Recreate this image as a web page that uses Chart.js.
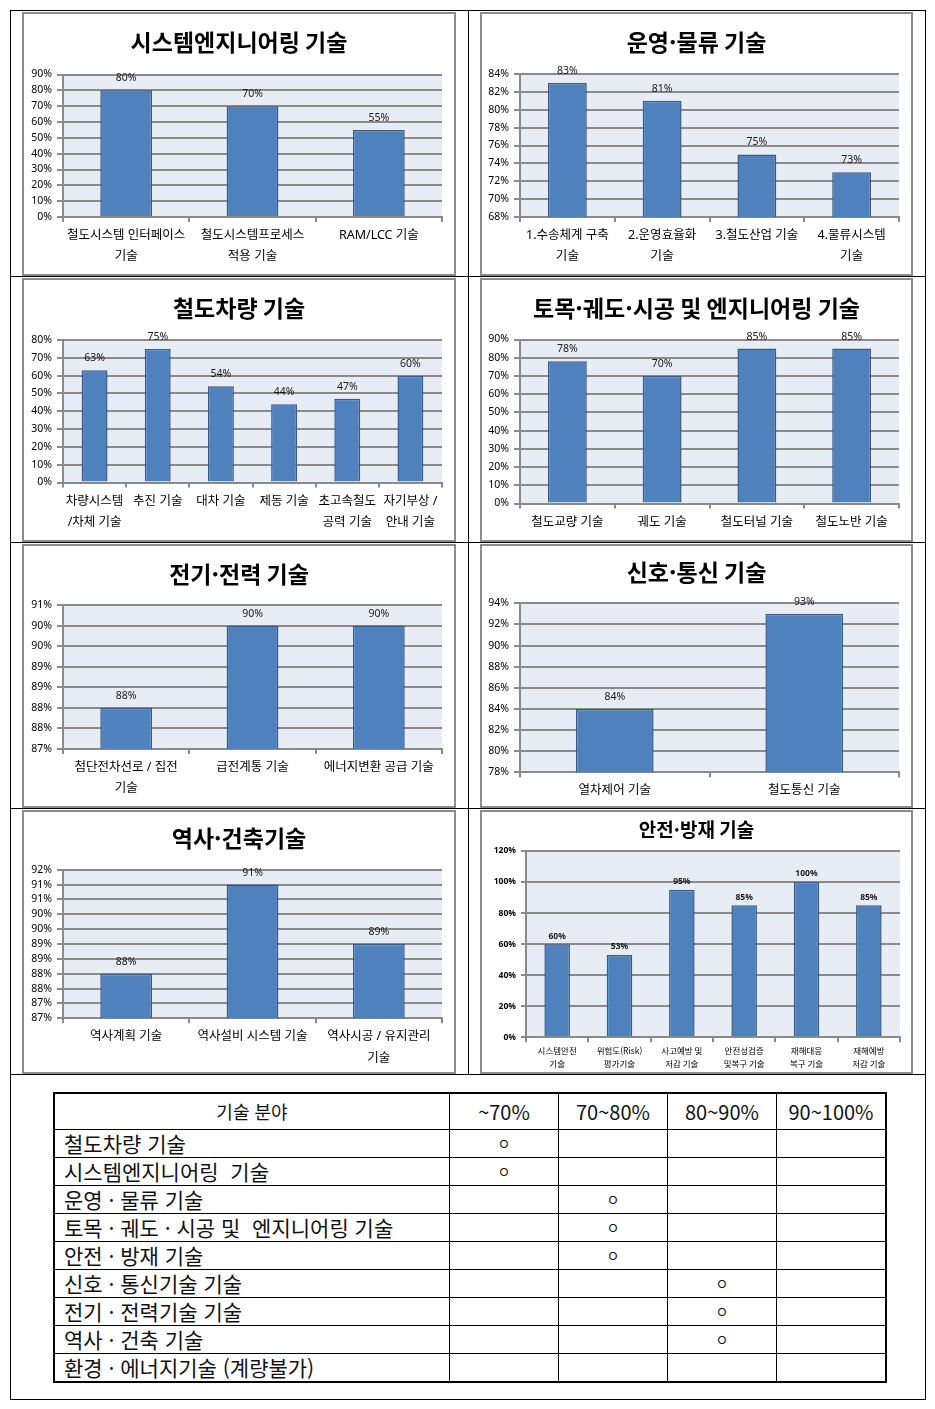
<!DOCTYPE html>
<html lang="ko">
<head>
<meta charset="utf-8">
<script src="https://cdn.jsdelivr.net/npm/chart.js@4.4.1/dist/chart.umd.min.js"></script>
<style>
  body { margin: 0; background: #fff; width: 935px; height: 1409px; position: relative; font-family: "Noto Sans CJK KR", sans-serif; }
  .line { position: absolute; background: #000; }
  .box { position: absolute; box-sizing: border-box; border: 2px solid #8c8c8c; }
  canvas { position: absolute; }
  #grid-table { position: absolute; left: 53px; top: 1092px; border-collapse: collapse; border: 2px solid #000; }
  #grid-table td { border: 1px solid #000; padding: 0; height: 27px; font-size: 21px; line-height: 27px; white-space: pre; color: #111; }
  #grid-table tr.head td { height: 35px; text-align: center; font-size: 20px; }
  #grid-table tr.head td:first-child { font-size: 18px; }
  #grid-table td.name { padding-left: 9px; }
  #grid-table td.mark { text-align: center; font-size: 14px; }
</style>
</head>
<body>
<div class="line" style="left:10px;top:10px;width:916px;height:1px"></div>
<div class="line" style="left:10px;top:1399px;width:916px;height:1px"></div>
<div class="line" style="left:10px;top:10px;width:1px;height:1390px"></div>
<div class="line" style="left:925px;top:10px;width:1px;height:1390px"></div>
<div class="line" style="left:468px;top:10px;width:1px;height:1064px"></div>
<div class="line" style="left:10px;top:276px;width:916px;height:1px"></div>
<div class="line" style="left:10px;top:542px;width:916px;height:1px"></div>
<div class="line" style="left:10px;top:808px;width:916px;height:1px"></div>
<div class="line" style="left:10px;top:1074px;width:916px;height:1px"></div>

<div class="box" style="left:22px;top:12px;width:434px;height:264px"></div>
<div class="box" style="left:480px;top:12px;width:433px;height:264px"></div>
<div class="box" style="left:22px;top:278px;width:434px;height:264px"></div>
<div class="box" style="left:480px;top:278px;width:433px;height:264px"></div>
<div class="box" style="left:22px;top:544px;width:434px;height:264px"></div>
<div class="box" style="left:480px;top:544px;width:433px;height:264px"></div>
<div class="box" style="left:22px;top:810px;width:434px;height:264px"></div>
<div class="box" style="left:480px;top:810px;width:433px;height:264px"></div>

<canvas id="c-sys" width="430" height="260" style="left:24px;top:14px"></canvas>
<canvas id="c-ops" width="429" height="260" style="left:482px;top:14px"></canvas>
<canvas id="c-car" width="430" height="260" style="left:24px;top:280px"></canvas>
<canvas id="c-civ" width="429" height="260" style="left:482px;top:280px"></canvas>
<canvas id="c-elec" width="430" height="260" style="left:24px;top:546px"></canvas>
<canvas id="c-sig" width="429" height="260" style="left:482px;top:546px"></canvas>
<canvas id="c-stn" width="430" height="260" style="left:24px;top:812px"></canvas>
<canvas id="c-safe" width="429" height="260" style="left:482px;top:812px"></canvas>

<table id="grid-table"></table>

<script>
// ── Data ──────────────────────────────────────────────────────────────────────
const sysLabels = [["철도시스템 인터페이스", "기술"], ["철도시스템프로세스", "적용 기술"], "RAM/LCC 기술"];
const sysValues = [80, 70, 55];
const sysAxis = [0, 90, 10];

const opsLabels = [["1.수송체계 구축", "기술"], ["2.운영효율화", "기술"], "3.철도산업 기술", ["4.물류시스템", "기술"]];
const opsValues = [83, 81, 75, 73];
const opsAxis = [68, 84, 2];

const carLabels = [["차량시스템", "/차체 기술"], "추진 기술", "대차 기술", "제동 기술", ["초고속철도", "공력 기술"], ["자기부상 /", "안내 기술"]];
const carValues = [63, 75, 54, 44, 47, 60];
const carAxis = [0, 80, 10];

const civLabels = ["철도교량 기술", "궤도 기술", "철도터널 기술", "철도노반 기술"];
const civValues = [78, 70, 85, 85];
const civAxis = [0, 90, 10];

const elecLabels = [["첨단전차선로 / 집전", "기술"], "급전계통 기술", "에너지변환 공급 기술"];
const elecValues = [88, 90, 90];
const elecAxis = [87, 90.5, 0.5];

const sigLabels = ["열차제어 기술", "철도통신 기술"];
const sigValues = [84, 93];
const sigAxis = [78, 94, 2];

const stnLabels = ["역사계획 기술", "역사설비 시스템 기술", ["역사시공 / 유지관리", "기술"]];
const stnValues = [88, 91, 89];
const stnAxis = [86.5, 91.5, 0.5];

const safeLabels = [["시스템안전", "기술"], ["위험도(Risk)", "평가기술"], ["사고예방 및", "저감 기술"], ["안전성검증", "및복구 기술"], ["재해대응", "복구 기술"], ["재해예방", "저감 기술"]];
const safeValues = [60, 53, 95, 85, 100, 85];
const safeAxis = [0, 120, 20];

const tableHead = ["기술 분야", "~70%", "70~80%", "80~90%", "90~100%"];
const tableRows = [
  "철도차량 기술",
  "시스템엔지니어링  기술",
  "운영 · 물류 기술",
  "토목 · 궤도 · 시공 및  엔지니어링 기술",
  "안전 · 방재 기술",
  "신호 · 통신기술 기술",
  "전기 · 전력기술 기술",
  "역사 · 건축 기술",
  "환경 · 에너지기술 (계량불가)",
];
const tableBand = [0, 0, 1, 1, 1, 2, 2, 2, -1];

// ── Chart helpers ────────────────────────────────────────────────────────────
const AXIS_GRAY = "#8a8a8a";
const LATIN = '"Noto Sans", "Noto Sans CJK KR", sans-serif';
const KOREAN = '"Noto Sans CJK KR", sans-serif';

const plotBg = {
  id: "plotBg",
  beforeDraw(chart) {
    const a = chart.chartArea;
    chart.ctx.save();
    chart.ctx.fillStyle = "#e8ecf4";
    chart.ctx.fillRect(a.left, a.top, a.right - a.left, a.bottom - a.top);
    chart.ctx.restore();
  },
};

const valueLabels = {
  id: "valueLabels",
  afterDatasetsDraw(chart, args, opts) {
    const ctx = chart.ctx;
    const values = chart.data.datasets[0].data;
    ctx.save();
    ctx.font = opts.font;
    ctx.fillStyle = "#1a1a1a";
    ctx.textAlign = "center";
    ctx.textBaseline = "middle";
    chart.getDatasetMeta(0).data.forEach((bar, i) => {
      ctx.fillText(values[i] + "%", bar.x, bar.y - opts.offset);
    });
    ctx.restore();
  },
};

function barChart(id, title, labels, values, axis, lay) {
  const canvas = document.getElementById(id);
  const H = canvas.height;
  const small = !!lay.small;
  const titleSize = lay.titleSize || 23;
  const half = titleSize * 0.6;
  return new Chart(canvas, {
    type: "bar",
    data: {
      labels,
      datasets: [{
        data: values,
        backgroundColor: "#4f81bd",
        borderColor: "#385d8a",
        borderWidth: 1.5,
        barPercentage: 0.41,
        categoryPercentage: 1,
      }],
    },
    options: {
      responsive: false,
      animation: false,
      layout: { padding: 0 },
      plugins: {
        legend: { display: false },
        tooltip: { enabled: false },
        title: {
          display: true,
          text: title,
          color: "#000",
          font: { family: KOREAN, size: titleSize, weight: "bold", lineHeight: 1.2 },
          padding: { top: lay.titleY - half, bottom: lay.top - lay.titleY - half },
        },
        valueLabels: {
          font: small ? 'bold 8.5px ' + LATIN : '10.5px ' + LATIN,
          offset: small ? 8 : 12,
        },
      },
      scales: {
        x: {
          grid: { offset: true, drawOnChartArea: false, color: AXIS_GRAY, lineWidth: 2, tickLength: 5 },
          border: { color: AXIS_GRAY, width: 2 },
          ticks: {
            color: "#000",
            padding: small ? 2 : 3,
            maxRotation: 0,
            autoSkip: false,
            font: small ? { family: KOREAN, size: 8.5, lineHeight: 1.55 } : { family: LATIN, size: 12.5, lineHeight: 1.7 },
          },
          afterFit: s => { s.height = H - lay.bottom; },
        },
        y: {
          min: axis[0],
          max: axis[1],
          grid: { color: AXIS_GRAY, lineWidth: 2, tickLength: small ? 5 : 6 },
          border: { color: AXIS_GRAY, width: 2 },
          ticks: {
            stepSize: axis[2],
            autoSkip: false,
            color: "#000",
            padding: 5,
            font: small ? { family: LATIN, size: 8.5, weight: "bold" } : { family: LATIN, size: 10.5 },
            callback: v => Math.round(v) + "%",
          },
          afterFit: s => { s.width = lay.left; },
        },
        // empty right-hand margin so the title stays centred on the whole box
        gap: {
          type: "linear",
          position: "right",
          grid: { display: false },
          border: { display: false },
          ticks: { display: false },
          afterFit: s => { s.width = lay.right; },
        },
      },
    },
    plugins: [plotBg, valueLabels],
  });
}

barChart("c-sys", "시스템엔지니어링 기술", sysLabels, sysValues, sysAxis, { left: 39, right: 12, top: 60.5, bottom: 203, titleY: 28 });
barChart("c-ops", "운영·물류 기술", opsLabels, opsValues, opsAxis, { left: 38, right: 12, top: 60, bottom: 203, titleY: 28 });
barChart("c-car", "철도차량 기술", carLabels, carValues, carAxis, { left: 39, right: 12, top: 60, bottom: 202.5, titleY: 28 });
barChart("c-civ", "토목·궤도·시공 및 엔지니어링 기술", civLabels, civValues, civAxis, { left: 38, right: 12, top: 59.5, bottom: 223.5, titleY: 28 });
barChart("c-elec", "전기·전력 기술", elecLabels, elecValues, elecAxis, { left: 39, right: 12, top: 59, bottom: 203, titleY: 28 });
barChart("c-sig", "신호·통신 기술", sigLabels, sigValues, sigAxis, { left: 38, right: 12, top: 57.3, bottom: 226.3, titleY: 26 });
barChart("c-stn", "역사·건축기술", stnLabels, stnValues, stnAxis, { left: 39, right: 12, top: 57.7, bottom: 206.3, titleY: 26 });
barChart("c-safe", "안전·방재 기술", safeLabels, safeValues, safeAxis, { left: 44, right: 11, top: 39, bottom: 225.3, titleY: 18, titleSize: 19, small: true });

// ── Summary table ────────────────────────────────────────────────────────────
const table = document.getElementById("grid-table");
const colWidths = [395, 109, 109, 109, 109];
let html = '<tr class="head">' + tableHead.map((h, i) => `<td style="width:${colWidths[i] - 1}px">${h}</td>`).join("") + "</tr>";
tableRows.forEach((name, r) => {
  html += `<tr><td class="name">${name}</td>`;
  for (let c = 0; c < 4; c++) {
    html += `<td class="mark">${tableBand[r] === c ? "ㅇ" : ""}</td>`;
  }
  html += "</tr>";
});
table.innerHTML = html;
</script>
</body>
</html>
